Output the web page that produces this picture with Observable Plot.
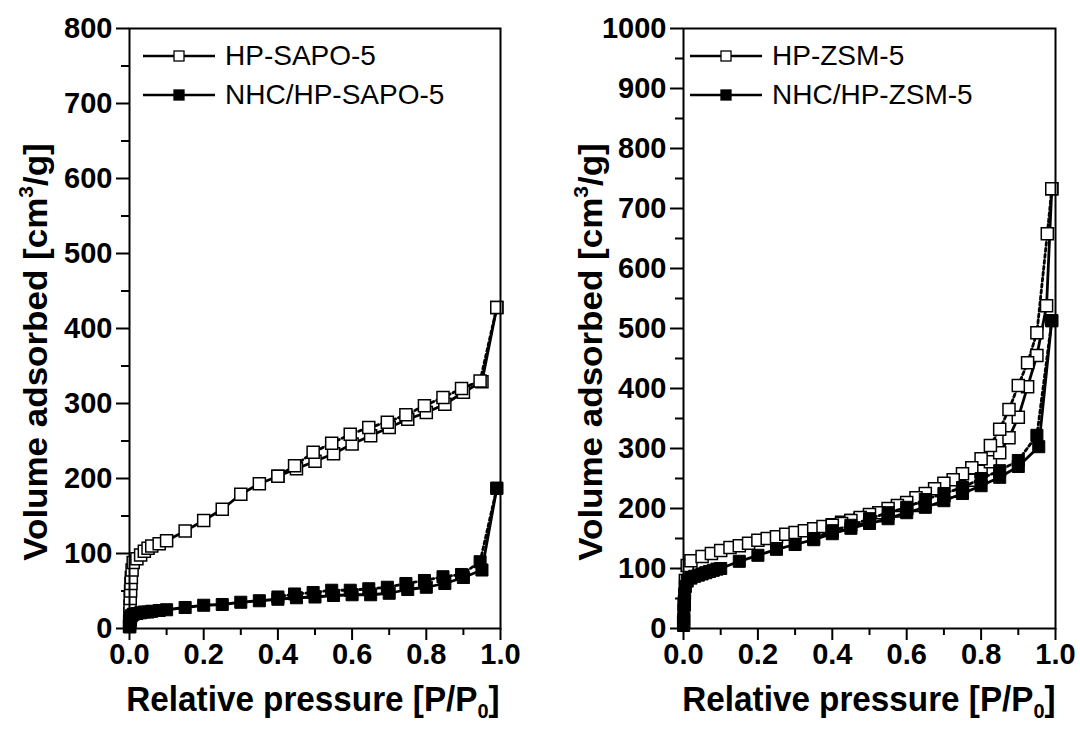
<!DOCTYPE html>
<html><head><meta charset="utf-8">
<script src="https://cdn.jsdelivr.net/npm/d3@7"></script>
<script src="https://cdn.jsdelivr.net/npm/@observablehq/plot@0.6"></script>
<style>
body{margin:0;background:#fff;}
#wrap{position:relative;width:1080px;height:740px;overflow:hidden;font-family:"Liberation Sans",Arial,sans-serif;background:#fff;}
.panel{position:absolute;top:0;}
.ytitle{position:absolute;font-weight:bold;font-size:35px;white-space:nowrap;line-height:1;transform:translate(-50%,-50%) rotate(-90deg) scale(1,0.95);}
.xtitle{position:absolute;font-weight:bold;font-size:35px;white-space:nowrap;line-height:1;transform:translate(-50%,-50%) scale(0.95,1);}
.ytitle sup{font-size:60%;vertical-align:0.7em;line-height:0;}
.xtitle sub{font-size:60%;vertical-align:-0.35em;line-height:0;}
.leg{position:absolute;display:flex;align-items:center;font-size:28px;white-space:nowrap;line-height:1;transform:translateY(-50%);}
.leg svg{margin-right:9px;}
</style>
</head><body>
<div id="wrap"></div>
<script>
// ---------- Data ----------
const xMajorTicks = [0, 0.2, 0.4, 0.6, 0.8, 1.0];
const xMinorTicks = [0.1, 0.3, 0.5, 0.7, 0.9];
const leftYTicks = [0, 100, 200, 300, 400, 500, 600, 700, 800];
const leftYMinor = [50, 150, 250, 350, 450, 550, 650, 750];
const rightYTicks = [0, 100, 200, 300, 400, 500, 600, 700, 800, 900, 1000];
const rightYMinor = [50, 150, 250, 350, 450, 550, 650, 750, 850, 950];

const leftSeries = ["HP-SAPO-5", "NHC/HP-SAPO-5"];
const rightSeries = ["HP-ZSM-5", "NHC/HP-ZSM-5"];

// HP-SAPO-5
const sapoAdsP = [0.0002, 0.0005, 0.001, 0.0015, 0.002, 0.003, 0.004, 0.005, 0.007, 0.01, 0.02, 0.03, 0.04, 0.05, 0.06, 0.08, 0.1, 0.15, 0.2, 0.25, 0.3, 0.35, 0.4, 0.45, 0.5, 0.55, 0.6, 0.65, 0.7, 0.75, 0.8, 0.85, 0.9, 0.95, 0.99];
const sapoAdsV = [3, 10, 20, 30, 40, 50, 60, 68, 78, 88, 93, 98, 103, 107, 110, 113, 117, 130, 144, 159, 179, 193, 203, 213, 223, 233, 246, 257, 268, 279, 288, 299, 315, 329, 428];
const sapoDesP = [0.99, 0.945, 0.895, 0.845, 0.795, 0.745, 0.695, 0.645, 0.595, 0.545, 0.495, 0.445, 0.4];
const sapoDesV = [428, 330, 320, 308, 297, 285, 275, 268, 259, 247, 235, 217, 203];

// NHC/HP-SAPO-5
const nhcSapoAdsP = [0.0002, 0.0005, 0.001, 0.002, 0.003, 0.005, 0.01, 0.02, 0.03, 0.04, 0.05, 0.06, 0.08, 0.1, 0.15, 0.2, 0.25, 0.3, 0.35, 0.4, 0.45, 0.5, 0.55, 0.6, 0.65, 0.7, 0.75, 0.8, 0.85, 0.9, 0.95, 0.99];
const nhcSapoAdsV = [2, 5, 8, 11, 14, 17, 19, 20, 21, 22, 22, 23, 24, 25, 28, 31, 32, 35, 37, 39, 41, 42, 44, 45, 45, 47, 52, 55, 60, 68, 78, 187];
const nhcSapoDesP = [0.99, 0.945, 0.895, 0.845, 0.795, 0.745, 0.695, 0.645, 0.595, 0.545, 0.495, 0.445, 0.4];
const nhcSapoDesV = [187, 89, 72, 69, 64, 60, 55, 53, 51, 51, 48, 46, 42];

// HP-ZSM-5
const zsmAdsP = [0.0005, 0.002, 0.005, 0.01, 0.02, 0.05, 0.075, 0.1, 0.125, 0.15, 0.175, 0.2, 0.225, 0.25, 0.275, 0.3, 0.325, 0.35, 0.375, 0.4, 0.425, 0.45, 0.475, 0.5, 0.525, 0.55, 0.575, 0.6, 0.625, 0.65, 0.675, 0.7, 0.725, 0.75, 0.775, 0.8, 0.825, 0.85, 0.875, 0.9, 0.925, 0.95, 0.976, 0.99];
const zsmAdsV = [10, 40, 80, 105, 113, 120, 125, 130, 135, 138, 142, 147, 150, 153, 157, 160, 163, 166, 170, 173, 177, 180, 183, 186, 188, 192, 196, 200, 205, 210, 216, 222, 229, 237, 247, 262, 278, 293, 318, 352, 403, 455, 538, 733];
const zsmDesP = [0.99, 0.978, 0.95, 0.925, 0.9, 0.875, 0.85, 0.825, 0.8, 0.775, 0.75, 0.725, 0.7, 0.675, 0.65, 0.625, 0.6, 0.575, 0.55, 0.525, 0.5, 0.475, 0.45, 0.425, 0.4];
const zsmDesV = [733, 658, 493, 443, 405, 365, 332, 305, 283, 268, 258, 248, 242, 233, 225, 218, 210, 205, 200, 193, 190, 185, 180, 175, 172];

// NHC/HP-ZSM-5
const nhcZsmAdsP = [0.0002, 0.0005, 0.001, 0.002, 0.003, 0.005, 0.01, 0.02, 0.03, 0.04, 0.05, 0.06, 0.07, 0.08, 0.09, 0.1, 0.15, 0.2, 0.25, 0.3, 0.35, 0.4, 0.45, 0.5, 0.55, 0.6, 0.65, 0.7, 0.75, 0.8, 0.85, 0.9, 0.955, 0.99];
const nhcZsmAdsV = [5, 15, 30, 45, 58, 70, 79, 84, 87, 89, 91, 93, 95, 97, 99, 100, 112, 122, 132, 140, 148, 158, 167, 175, 183, 193, 202, 213, 225, 238, 252, 270, 303, 513];
const nhcZsmDesP = [0.99, 0.95, 0.9, 0.85, 0.8, 0.75, 0.7, 0.65, 0.6, 0.55, 0.5, 0.45, 0.4, 0.35];
const nhcZsmDesV = [513, 322, 280, 263, 250, 235, 225, 215, 202, 193, 183, 172, 163, 150];

// ---------- Build ----------
const zip = (P, V) => P.map((p, i) => ({p, v: V[i]}));
const wrap = document.getElementById("wrap");

function makePanel(cfg) {
  const ads1 = zip(cfg.a1P, cfg.a1V), des1 = zip(cfg.d1P, cfg.d1V);
  const ads2 = zip(cfg.a2P, cfg.a2V), des2 = zip(cfg.d2P, cfg.d2V);
  const lineOpt = {x: "p", y: "v", stroke: "black", strokeWidth: 2.8};
  const dotOpen = {x: "p", y: "v", symbol: "square", r: 6.8, fill: "white", stroke: "black", strokeWidth: 1.5};
  const dotFill = {x: "p", y: "v", symbol: "square", r: 6.8, fill: "black", stroke: "black", strokeWidth: 1};
  const plot = Plot.plot({
    width: 540, height: 700,
    marginLeft: cfg.ml, marginRight: cfg.mr, marginTop: 28, marginBottom: 72,
    x: {domain: [0, 1]},
    y: {domain: [0, cfg.ymax]},
    style: {fontFamily: "'Liberation Sans', Arial, sans-serif", fontSize: "29px", fontWeight: "bold", color: "black", background: "transparent", overflow: "visible"},
    marks: [
      Plot.axisX(xMajorTicks, {tickSize: 12, tickPadding: 3, strokeWidth: 2, tickFormat: d3.format(".1f"), label: null}),
      Plot.axisX(xMinorTicks, {tickSize: 7, strokeWidth: 2, tickFormat: () => "", label: null}),
      Plot.axisY(cfg.yTicks, {tickSize: 13, tickPadding: 4, strokeWidth: 2, tickFormat: d3.format("d"), label: null}),
      Plot.axisY(cfg.yMinor, {tickSize: 8, strokeWidth: 2, tickFormat: () => "", label: null}),
      Plot.line(ads1, lineOpt),
      Plot.line(des1, {...lineOpt, strokeDasharray: "3,3"}),
      Plot.dot(ads1, dotOpen),
      Plot.dot(des1, dotOpen),
      Plot.line(ads2, lineOpt),
      Plot.line(des2, {...lineOpt, strokeDasharray: "3,3"}),
      Plot.dot(ads2, dotFill),
      Plot.dot(des2, dotFill),
      Plot.frame({stroke: "black", strokeWidth: 2})
    ]
  });
  plot.classList.add("panel");
  plot.style.left = cfg.left + "px";
  wrap.appendChild(plot);

  const yt = document.createElement("div");
  yt.className = "ytitle";
  yt.innerHTML = "Volume adsorbed [cm<sup>3</sup>/g]";
  yt.style.left = cfg.ytx + "px"; yt.style.top = "352px";
  wrap.appendChild(yt);

  const xt = document.createElement("div");
  xt.className = "xtitle";
  xt.innerHTML = "Relative pressure [P/P<sub>0</sub>]";
  xt.style.left = cfg.xtx + "px"; xt.style.top = "698px";
  wrap.appendChild(xt);

  cfg.names.forEach((name, i) => {
    const d = document.createElement("div");
    d.className = "leg";
    d.style.left = cfg.legx + "px";
    d.style.top = (cfg.legy[i]) + "px";
    const fill = i === 0 ? "white" : "black";
    d.innerHTML = `<svg width="74" height="16"><line x1="1" y1="8" x2="73" y2="8" stroke="black" stroke-width="2.5"/><rect x="32" y="3" width="10" height="10" fill="${fill}" stroke="black" stroke-width="1.3"/></svg><span>${name}</span>`;
    wrap.appendChild(d);
  });
}

makePanel({
  left: 0, ml: 129, mr: 40, ymax: 800, yTicks: leftYTicks, yMinor: leftYMinor,
  a1P: sapoAdsP, a1V: sapoAdsV, d1P: sapoDesP, d1V: sapoDesV,
  a2P: nhcSapoAdsP, a2V: nhcSapoAdsV, d2P: nhcSapoDesP, d2V: nhcSapoDesV,
  ytx: 35, xtx: 313, legx: 142, legy: [56, 95], names: leftSeries
});
makePanel({
  left: 540, ml: 143, mr: 25, ymax: 1000, yTicks: rightYTicks, yMinor: rightYMinor,
  a1P: zsmAdsP, a1V: zsmAdsV, d1P: zsmDesP, d1V: zsmDesV,
  a2P: nhcZsmAdsP, a2V: nhcZsmAdsV, d2P: nhcZsmDesP, d2V: nhcZsmDesV,
  ytx: 590, xtx: 869, legx: 689, legy: [56, 95], names: rightSeries
});
</script>
</body></html>
